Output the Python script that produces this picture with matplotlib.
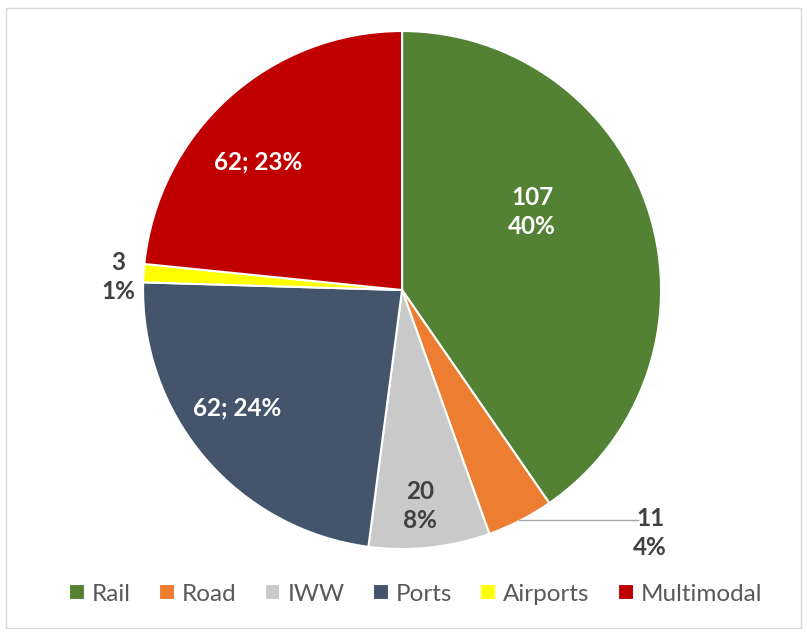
import matplotlib
matplotlib.use('Agg')
import matplotlib.pyplot as plt
from matplotlib.patches import Rectangle

plt.rcParams['font.family'] = ['Lato', 'DejaVu Sans']

# Datos
categories = ['Rail', 'Road', 'IWW', 'Ports', 'Airports', 'Multimodal']
values = [107, 11, 20, 62, 3, 62]
pct_labels = ['40%', '4%', '8%', '24%', '1%', '23%']
colors = ['#548235', '#ED7D31', '#C9C9C9', '#44546A', '#FFFF00', '#C00000']

# Estilo de las etiquetas: separador, color y posicion (coordenadas de texto)
label_sep = ['\n', '\n', '\n', '; ', '\n', '; ']
label_color = ['white', '#404040', '#404040', 'white', '#404040', 'white']
label_pos = [(0.502, 0.301), (0.958, -0.938), (0.069, -0.834),
             (-0.637, -0.456), (-1.097, 0.050), (-0.556, 0.494)]

fig = plt.figure(figsize=(8.07, 6.32), dpi=100)
ax = fig.add_axes([0.1772, 0.1313, 0.642, 0.8196])

wedges, _ = ax.pie(values, colors=colors, startangle=90, counterclock=False,
                   radius=1.0, wedgeprops=dict(edgecolor='white', linewidth=1.5))
ax.set_xlim(-1, 1)
ax.set_ylim(-1, 1)
ax.set_aspect('equal')
ax.axis('off')

for i in range(len(values)):
    x, y = label_pos[i]
    ax.text(x, y, f'{values[i]}{label_sep[i]}{pct_labels[i]}', ha='center', va='center',
            fontsize=17.5, fontweight='bold', color=label_color[i], linespacing=1.3,
            clip_on=False)

# Linea guia para Road
ax.plot([0.45, 0.91], [-0.887, -0.887], color='#A6A6A6', lw=1, clip_on=False)

fig.legend(wedges, categories, loc='center', bbox_to_anchor=(0.515, 0.06), ncol=6,
           frameon=False, fontsize=17.5, labelcolor='#595959', handlelength=0.65,
           handleheight=0.65, handletextpad=0.3, columnspacing=1.15)

fig.patches.append(Rectangle((0.008, 0.006), 0.985, 0.982, transform=fig.transFigure,
                             fill=False, edgecolor='#D9D9D9', lw=1))

plt.savefig('out.png', dpi=100)
